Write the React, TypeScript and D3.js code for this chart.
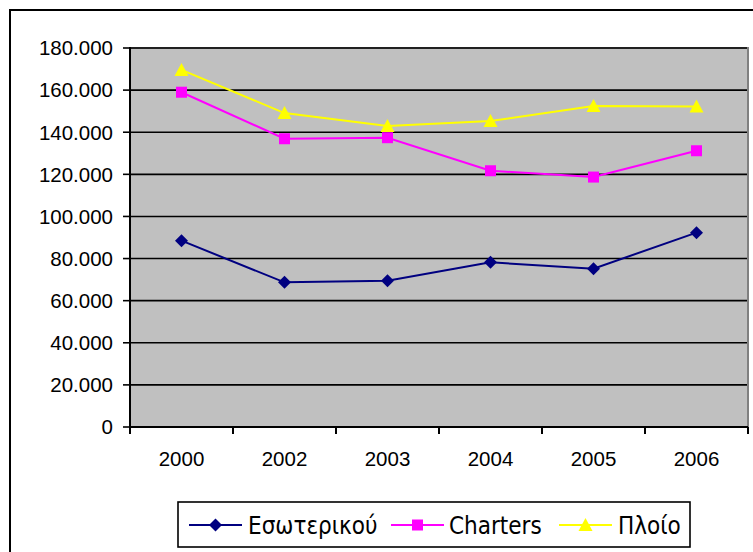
import React from "react";
import * as d3 from "d3";

const categories = ["2000", "2002", "2003", "2004", "2005", "2006"];
const esoterikou = [88500, 68700, 69500, 78200, 75200, 92300];
const charters = [159000, 136900, 137400, 121700, 118700, 131200];
const ploio = [169600, 149100, 143000, 145300, 152500, 152200];
const yTicks = [0, 20000, 40000, 60000, 80000, 100000, 120000, 140000, 160000, 180000];
const seriesNames = ["Εσωτερικού", "Charters", "Πλοίο"];

const W = 753;
const H = 552;
const plot = { left: 130, top: 48, right: 748, bottom: 427 };

function tickLabel(v: number) {
  if (v === 0) return "0";
  const k = v / 1000;
  return `${k}.000`;
}

export default function App() {
  const x = d3.scaleBand().domain(categories).range([plot.left, plot.right]).padding(0);
  const y = d3.scaleLinear().domain([0, 180000]).range([plot.bottom, plot.top]);
  const cx = (c: string) => (x(c) as number) + x.bandwidth() / 2;

  const line = d3
    .line<number>()
    .x((_, i) => cx(categories[i]))
    .y((d) => y(d));

  const series = [
    { name: seriesNames[0], data: esoterikou, color: "#000080", shape: "diamond" },
    { name: seriesNames[1], data: charters, color: "#FF00FF", shape: "square" },
    { name: seriesNames[2], data: ploio, color: "#FFFF00", shape: "triangle" },
  ];

  const marker = (shape: string, px: number, py: number, color: string, key: string) => {
    if (shape === "diamond") {
      const s = 6.5;
      return (
        <path key={key} d={`M${px},${py - s}L${px + s},${py}L${px},${py + s}L${px - s},${py}Z`} fill={color} />
      );
    }
    if (shape === "square") {
      const s = 5.5;
      return <rect key={key} x={px - s} y={py - s} width={2 * s} height={2 * s} fill={color} />;
    }
    const s = 7;
    return (
      <path key={key} d={`M${px},${py - s}L${px + s},${py + 6}L${px - s},${py + 6}Z`} fill={color} />
    );
  };

  const edges = [...categories.map((c) => x(c) as number), plot.right];

  const legendItems = [
    { lx: 189, tx: 248 },
    { lx: 391, tx: 449 },
    { lx: 559, tx: 618 },
  ];
  const legendY = 525;

  return (
    <svg width={W} height={H} style={{ position: "absolute", left: 0, top: 0, background: "#fff" }}>
      <rect x={10} y={10} width={W + 20} height={H + 20} fill="#fff" stroke="#000" strokeWidth={2} />
      <rect x={plot.left} y={plot.top} width={plot.right - plot.left} height={plot.bottom - plot.top} fill="#C0C0C0" stroke="#808080" strokeWidth={2} />
      {yTicks.slice(1).map((t) => (
        <line key={t} x1={plot.left} x2={plot.right - 1} y1={y(t)} y2={y(t)} stroke="#000" strokeWidth={1.6} />
      ))}
      <line x1={plot.left} x2={plot.left} y1={plot.top - 1} y2={plot.bottom} stroke="#000" strokeWidth={2} />
      <line x1={plot.left} x2={plot.right} y1={plot.bottom} y2={plot.bottom} stroke="#000" strokeWidth={2} />
      {yTicks.map((t) => (
        <g key={t}>
          <line x1={plot.left - 7} x2={plot.left} y1={y(t)} y2={y(t)} stroke="#000" strokeWidth={1.6} />
          <text x={113} y={y(t)} dy="0.36em" textAnchor="end" fontFamily="Liberation Sans, Arial, sans-serif" fontSize={20.5} fill="#000">
            {tickLabel(t)}
          </text>
        </g>
      ))}
      {edges.map((e, i) => (
        <line key={i} x1={e} x2={e} y1={plot.bottom} y2={plot.bottom + 7} stroke="#000" strokeWidth={2} />
      ))}
      {categories.map((c) => (
        <text key={c} x={cx(c)} y={466} textAnchor="middle" fontFamily="Liberation Sans, Arial, sans-serif" fontSize={20.5} fill="#000">
          {c}
        </text>
      ))}
      {series.map((s) => (
        <g key={s.name}>
          <path d={line(s.data) || ""} fill="none" stroke={s.color} strokeWidth={2} />
          {s.data.map((v, i) => marker(s.shape, cx(categories[i]), y(v), s.color, s.name + i))}
        </g>
      ))}
      <rect x={178} y={502} width={512} height={45} fill="#fff" stroke="#000" strokeWidth={1.6} />
      {series.map((s, i) => (
        <g key={"lg" + s.name}>
          <line x1={legendItems[i].lx} x2={legendItems[i].lx + 53} y1={legendY} y2={legendY} stroke={s.color} strokeWidth={2} />
          {marker(s.shape, legendItems[i].lx + 26.5, legendY, s.color, "lm" + i)}
          <text x={legendItems[i].tx} y={legendY} dy="0.36em" fontFamily="DejaVu Sans Condensed, DejaVu Sans, sans-serif" fontStretch="condensed" fontSize={24} fill="#000">
            {s.name}
          </text>
        </g>
      ))}
    </svg>
  );
}
